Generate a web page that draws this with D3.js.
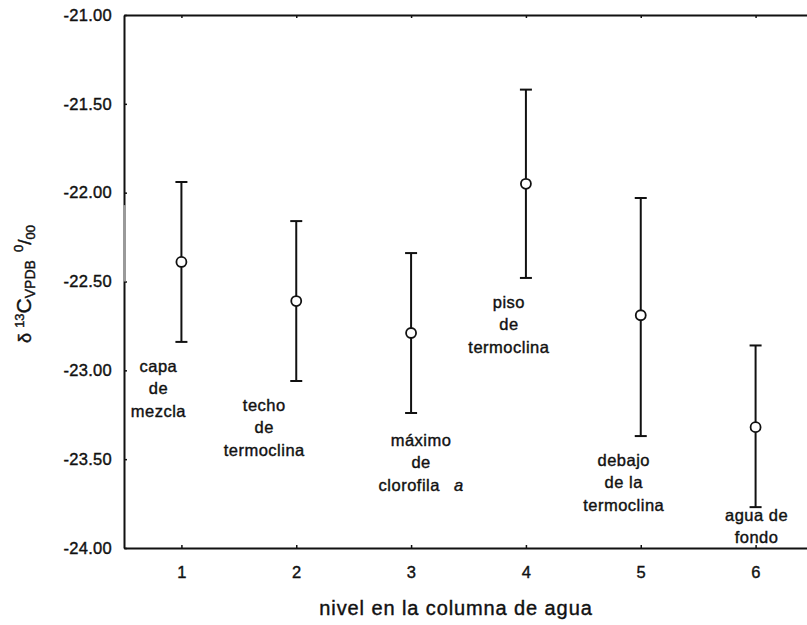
<!DOCTYPE html>
<html>
<head>
<meta charset="utf-8">
<script src="https://cdn.jsdelivr.net/npm/d3@7"></script>
<style>
    body { margin: 0; background: #fff; }
    text { font-family: "Liberation Sans", Arial, sans-serif; fill: #111; stroke: #111; stroke-width: 0.4px; }
</style>
</head>
<body>
<svg id="chart" width="807" height="625"></svg>
<script>
// values (delta 13C, per mil)
const levels = [1, 2, 3, 4, 5, 6];
const means = [-22.39, -22.61, -22.79, -21.95, -22.69, -23.32];
const upper = [-21.94, -22.16, -22.34, -21.42, -22.03, -22.86];
const lower = [-22.84, -23.06, -23.24, -22.48, -23.37, -23.77];
const labels = [
    ['capa', 'de', 'mezcla'],
    ['techo', 'de', 'termoclina'],
    ['máximo', 'de', 'clorofila|a'],
    ['piso', 'de', 'termoclina'],
    ['debajo', 'de la', 'termoclina'],
    ['agua de', 'fondo'],
];
const yTicks = [-24, -23.5, -23, -22.5, -22, -21.5, -21];

// label placement relative to the lower end of each bar (px)
const labelDx = [-23, -32, 10, -17, -17, 1];
const labelDy = [30, 30, 33, 30, 30, 14];

const margin = { top: 15, right: -6, bottom: 77, left: 124 };
const W = 807;
const H = 625;

const svg = d3.select('#chart');

const x = d3.scaleLinear()
    .domain([0.5, 6.5])
    .range([margin.left, W - margin.right]);

const y = d3.scaleLinear()
    .domain([-24, -21])
    .range([H - margin.bottom, margin.top]);

// axes (plain hyphen for negatives, as in the original)
const yAxis = d3.axisLeft(y)
    .tickValues(yTicks)
    .tickSizeInner(-3)
    .tickSizeOuter(0)
    .tickPadding(12)
    .tickFormat(d => d.toFixed(2));

const xAxis = d3.axisBottom(x)
    .tickValues(levels)
    .tickSizeInner(-3)
    .tickSizeOuter(0)
    .tickPadding(18)
    .tickFormat(d => String(d));

const topAxis = d3.axisTop(x)
    .tickValues(levels)
    .tickSizeInner(-3)
    .tickSizeOuter(0)
    .tickFormat('');

svg.append('g')
    .attr('transform', `translate(${margin.left},0)`)
    .call(yAxis);

svg.append('g')
    .attr('transform', `translate(0,${H - margin.bottom})`)
    .call(xAxis);

svg.append('g')
    .attr('transform', `translate(0,${margin.top})`)
    .call(topAxis);

svg.selectAll('.domain')
    .attr('stroke', '#111')
    .attr('stroke-width', 2);

svg.selectAll('.tick line')
    .attr('stroke', '#111')
    .attr('stroke-width', 1.5);

svg.selectAll('.tick text')
    .attr('font-size', 16.5)
    .attr('letter-spacing', 0.3)
    .attr('fill', '#111')
    .attr('font-family', '"Liberation Sans", Arial, sans-serif');

// faint smudge on the left axis of the scanned original
svg.append('line')
    .attr('x1', margin.left + 0.5)
    .attr('x2', margin.left + 0.5)
    .attr('y1', y(-22.07))
    .attr('y2', y(-22.5))
    .attr('stroke', '#9a9a9a')
    .attr('stroke-width', 3);

// error bars
const capHalf = 6;
const bars = svg.append('g').attr('class', 'bars');

const bar = bars.selectAll('.bar')
    .data(levels)
    .enter().append('g')
    .attr('class', 'bar');

bar.append('line')
    .attr('x1', d => x(d))
    .attr('x2', d => x(d))
    .attr('y1', (d, i) => y(upper[i]))
    .attr('y2', (d, i) => y(lower[i]))
    .attr('stroke', '#111')
    .attr('stroke-width', 2);

bar.append('line')
    .attr('x1', d => x(d) - capHalf)
    .attr('x2', d => x(d) + capHalf)
    .attr('y1', (d, i) => y(upper[i]))
    .attr('y2', (d, i) => y(upper[i]))
    .attr('stroke', '#111')
    .attr('stroke-width', 2);

bar.append('line')
    .attr('x1', d => x(d) - capHalf)
    .attr('x2', d => x(d) + capHalf)
    .attr('y1', (d, i) => y(lower[i]))
    .attr('y2', (d, i) => y(lower[i]))
    .attr('stroke', '#111')
    .attr('stroke-width', 2);

bar.append('circle')
    .attr('cx', d => x(d))
    .attr('cy', (d, i) => y(means[i]))
    .attr('r', 5)
    .attr('fill', '#fff')
    .attr('stroke', '#111')
    .attr('stroke-width', 1.8);

// level annotations
const lineGap = 22.3;
bar.each(function(d, i) {
    const g = d3.select(this);
    const cx = x(d) + labelDx[i];
    const y0 = y(lower[i]) + labelDy[i];
    labels[i].forEach((line, j) => {
        const t = g.append('text')
            .attr('x', cx)
            .attr('y', y0 + j * lineGap)
            .attr('text-anchor', 'middle')
            .attr('font-size', 16.5)
            .attr('letter-spacing', 0.5);
        const parts = line.split('|');
        t.append('tspan').text(parts[0]);
        if (parts[1]) {
            t.append('tspan')
                .attr('dx', 14)
                .attr('font-style', 'italic')
                .text(parts[1]);
        }
    });
});

// axis titles
svg.append('text')
    .attr('x', 456)
    .attr('y', 615)
    .attr('text-anchor', 'middle')
    .attr('font-size', 20)
    .attr('letter-spacing', 0.9)
    .text('nivel en la columna de agua');

const yTitle = svg.append('text')
    .attr('transform', 'translate(31,284) rotate(-90)')
    .attr('text-anchor', 'middle');

yTitle.append('tspan').attr('font-size', 18).text('δ ');
yTitle.append('tspan').attr('font-size', 13).attr('dy', -7).text('13');
yTitle.append('tspan').attr('font-size', 21).attr('dy', 7).text('C');
yTitle.append('tspan').attr('font-size', 14).attr('dy', 4).text('VPDB');
yTitle.append('tspan').attr('font-size', 13).attr('dx', 8).attr('dy', -12).text('0');
yTitle.append('tspan').attr('font-size', 19).attr('dy', 8).text('/');
yTitle.append('tspan').attr('font-size', 13).attr('dy', 4).text('00');
</script>
</body>
</html>
